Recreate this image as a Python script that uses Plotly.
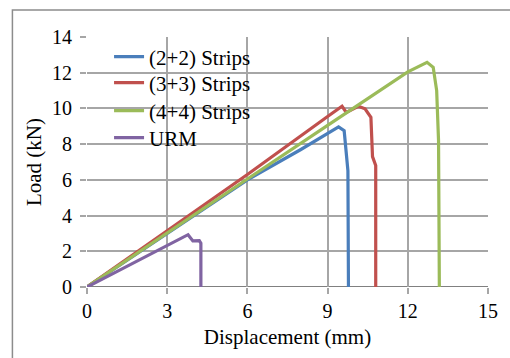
import plotly.graph_objects as go

names = ["(2+2) Strips", "(3+3) Strips", "(4+4) Strips", "URM"]
colors = ["#4A7EBB", "#C0504D", "#9BBB59", "#8064A2"]

x_22 = [0, 3, 6, 8, 9.41, 9.62, 9.76, 9.78]
y_22 = [0, 3.0, 6.0, 7.7, 8.96, 8.75, 6.5, 0]

x_33 = [0, 3, 6, 9, 9.54, 9.7, 10.15, 10.4, 10.62, 10.68, 10.8, 10.8]
y_33 = [0, 3.15, 6.3, 9.55, 10.12, 9.78, 10.12, 9.98, 9.5, 7.3, 6.8, 0]

x_44 = [0, 3, 6, 9, 12, 12.72, 12.95, 13.08, 13.15, 13.18]
y_44 = [0, 3.05, 6.05, 9.05, 12.05, 12.58, 12.3, 11.0, 8.2, 0]

x_urm = [0, 3.78, 3.96, 4.2, 4.26, 4.26]
y_urm = [0, 2.93, 2.58, 2.6, 2.45, 0]

xs = [x_22, x_33, x_44, x_urm]
ys = [y_22, y_33, y_44, y_urm]

x_ticks = [0, 3, 6, 9, 12, 15]
y_ticks = [0, 2, 4, 6, 8, 10, 12, 14]

font = "Liberation Serif, Times New Roman, Times, serif"
legend_ids = ["legend", "legend2", "legend3", "legend4"]
legend_y = [0.92, 0.816, 0.704, 0.596]

fig = go.Figure()
for n, c, x, y, lg in zip(names, colors, xs, ys, legend_ids):
    fig.add_trace(go.Scatter(x=x, y=y, mode="lines", name=n, legend=lg,
                             line=dict(color=c, width=3.2)))

layout_legends = {}
for lg, ly in zip(legend_ids, legend_y):
    layout_legends[lg] = dict(x=0.055, y=ly, xanchor="left", yanchor="middle",
                              bgcolor="rgba(0,0,0,0)",
                              font=dict(family=font, size=21, color="black"))

fig.update_layout(
    width=510, height=358,
    margin=dict(l=87, r=15, t=37, b=71),
    paper_bgcolor="white", plot_bgcolor="white",
    font=dict(family=font, size=20, color="black"),
    showlegend=True,
    xaxis=dict(range=[0, 15], tickvals=x_ticks, showgrid=True,
               gridcolor="#a6a6a6", gridwidth=1.5, zeroline=False,
               showline=False, ticks="outside", ticklen=6,
               tickcolor="#a6a6a6", tickwidth=1.5,
               tickfont=dict(family=font, size=20, color="black"),
               title=dict(text="Displacement (mm)",
                          font=dict(family=font, size=21, color="black"), standoff=8)),
    yaxis=dict(range=[0, 14], tickvals=y_ticks, showgrid=True,
               gridcolor="#a6a6a6", gridwidth=1.5, zeroline=False,
               showline=False, ticks="outside", ticklen=6,
               tickcolor="#a6a6a6", tickwidth=1.5, ticklabelstandoff=4,
               tickfont=dict(family=font, size=20, color="black"),
               title=dict(text="Load (kN)",
                          font=dict(family=font, size=21, color="black"), standoff=4)),
    shapes=[
        dict(type="line", xref="x", yref="y", x0=0, x1=15, y0=0, y1=0,
             line=dict(color="#808080", width=2), layer="below"),
        dict(type="rect", xref="paper", yref="paper",
             x0=-0.186, x1=2, y0=-1, y1=1.108,
             line=dict(color="#8c8c8c", width=1.5)),
    ],
    **layout_legends,
)

fig.write_html("out.html")
